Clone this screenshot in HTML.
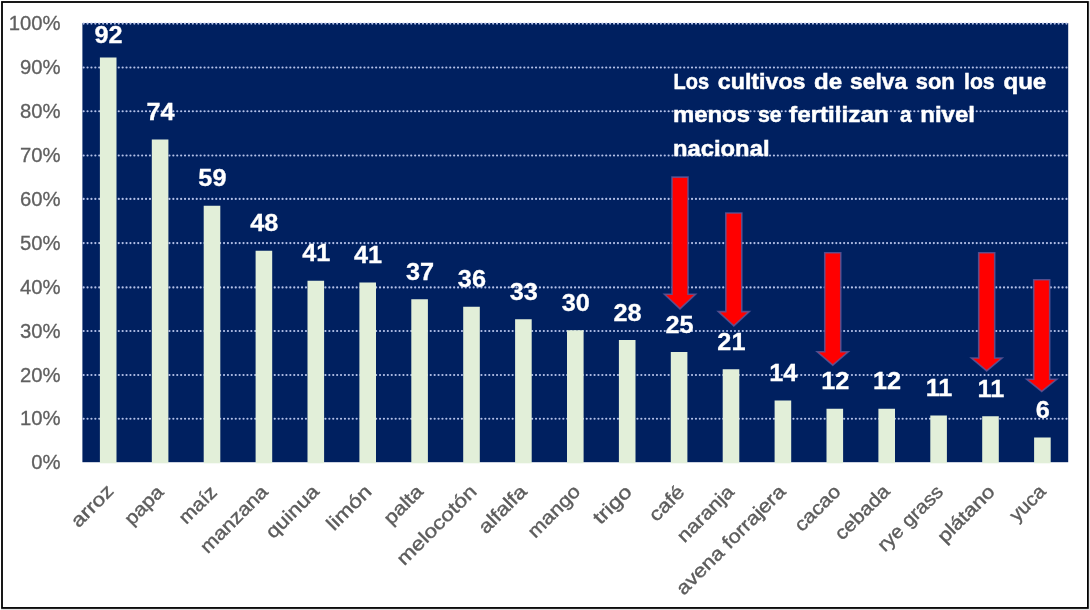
<!DOCTYPE html>
<html lang="es">
<head>
<meta charset="utf-8">
<title>Cultivos fertilizados</title>
<style>
html,body{margin:0;padding:0;background:#fff;}
body{width:1090px;height:610px;overflow:hidden;}
svg{display:block;}
text{font-family:"Liberation Sans",sans-serif;}
.ax{font-size:20.3px;fill:#606060;stroke:#606060;stroke-width:0.3px;}
.dl{font-size:24.2px;font-weight:bold;fill:#fff;stroke:#fff;stroke-width:0.3px;}
.note{font-size:22.7px;font-weight:bold;fill:#fff;stroke:#fff;stroke-width:0.5px;}
.cat{font-size:19px;fill:#5c5c5c;stroke:#5c5c5c;stroke-width:0.4px;}
</style>
</head>
<body>
<svg width="1090" height="610" viewBox="0 0 1090 610">
<rect x="0" y="0" width="1090" height="610" fill="#fff"/>
<rect x="1088.8" y="1" width="1.2" height="609" fill="#e6e6e6"/>
<rect x="1" y="608.8" width="1089" height="1.2" fill="#e2e2e2"/>
<rect x="2" y="2" width="1085.9" height="605.95" fill="#fff" stroke="#000" stroke-width="1.8"/>
<rect x="82.4" y="23" width="985.8" height="439.2" fill="#002060"/>
<g stroke="#b4c1e8" stroke-width="2.1" stroke-dasharray="0.1 3.8" stroke-linecap="round" fill="none">
<line x1="83.6" y1="418.70" x2="1068.2" y2="418.70"/>
<line x1="83.6" y1="375.00" x2="1068.2" y2="375.00"/>
<line x1="83.6" y1="331.00" x2="1068.2" y2="331.00"/>
<line x1="83.6" y1="287.40" x2="1068.2" y2="287.40"/>
<line x1="83.6" y1="243.10" x2="1068.2" y2="243.10"/>
<line x1="83.6" y1="198.90" x2="1068.2" y2="198.90"/>
<line x1="83.6" y1="155.50" x2="1068.2" y2="155.50"/>
<line x1="83.6" y1="111.30" x2="1068.2" y2="111.30"/>
<line x1="83.6" y1="67.50" x2="1068.2" y2="67.50"/>
<line x1="83.6" y1="23.60" x2="1068.2" y2="23.60"/>
</g>
<g fill="#e2efd9">
<rect x="99.90" y="57.5" width="16.6" height="405.80"/>
<rect x="151.80" y="139.5" width="16.6" height="323.80"/>
<rect x="203.70" y="205.75" width="16.6" height="257.55"/>
<rect x="255.60" y="250.75" width="16.6" height="212.55"/>
<rect x="307.50" y="280.75" width="16.6" height="182.55"/>
<rect x="359.40" y="282.5" width="16.6" height="180.80"/>
<rect x="411.30" y="299.25" width="16.6" height="164.05"/>
<rect x="463.20" y="306.75" width="16.6" height="156.55"/>
<rect x="515.10" y="319.25" width="16.6" height="144.05"/>
<rect x="567.00" y="330.25" width="16.6" height="133.05"/>
<rect x="618.90" y="340" width="16.6" height="123.30"/>
<rect x="670.80" y="352" width="16.6" height="111.30"/>
<rect x="722.70" y="369.25" width="16.6" height="94.05"/>
<rect x="774.60" y="400.5" width="16.6" height="62.80"/>
<rect x="826.50" y="408.75" width="16.6" height="54.55"/>
<rect x="878.40" y="408.75" width="16.6" height="54.55"/>
<rect x="930.30" y="415.5" width="16.6" height="47.80"/>
<rect x="982.20" y="416.25" width="16.6" height="47.05"/>
<rect x="1034.10" y="437.5" width="16.6" height="25.80"/>
</g>
<g class="ax" text-anchor="end">
<text x="60.6" y="469.10">0%</text>
<text x="60.6" y="425.30">10%</text>
<text x="60.6" y="381.60">20%</text>
<text x="60.6" y="337.60">30%</text>
<text x="60.6" y="294.00">40%</text>
<text x="60.6" y="249.70">50%</text>
<text x="60.6" y="205.50">60%</text>
<text x="60.6" y="162.10">70%</text>
<text x="60.6" y="117.90">80%</text>
<text x="60.6" y="74.10">90%</text>
<text x="60.6" y="30.20">100%</text>
</g>
<g fill="#ff0000" stroke="#5a5a9e" stroke-opacity="0.8" stroke-width="1.6" stroke-linejoin="miter">
<path d="M672.00 177.10 H688.00 V294.30 H695.50 L680.00 308.90 L664.50 294.30 H672.00 Z"/>
<path d="M725.80 213.00 H741.80 V311.60 H749.30 L733.80 325.80 L718.30 311.60 H725.80 Z"/>
<path d="M824.75 252.80 H840.75 V351.80 H848.25 L832.75 365.15 L817.25 351.80 H824.75 Z"/>
<path d="M978.70 252.80 H994.70 V358.00 H1002.00 L986.70 370.90 L971.40 358.00 H978.70 Z"/>
<path d="M1033.70 279.80 H1049.70 V379.30 H1056.70 L1041.70 391.40 L1026.70 379.30 H1033.70 Z"/>
</g>
<g class="dl" text-anchor="middle">
<text transform="translate(108.60 43) scale(1.045 1)">92</text>
<text transform="translate(160.50 119.7) scale(1.045 1)">74</text>
<text transform="translate(212.40 185.75) scale(1.045 1)">59</text>
<text transform="translate(264.30 231.25) scale(1.045 1)">48</text>
<text transform="translate(316.20 261.25) scale(1.045 1)">41</text>
<text transform="translate(368.10 263) scale(1.045 1)">41</text>
<text transform="translate(420.00 280) scale(1.045 1)">37</text>
<text transform="translate(471.90 287.1) scale(1.045 1)">36</text>
<text transform="translate(523.80 300) scale(1.045 1)">33</text>
<text transform="translate(575.70 310.6) scale(1.045 1)">30</text>
<text transform="translate(627.60 320.75) scale(1.045 1)">28</text>
<text transform="translate(679.50 332.5) scale(1.045 1)">25</text>
<text transform="translate(731.40 349.5) scale(1.045 1)">21</text>
<text transform="translate(783.30 380.75) scale(1.045 1)">14</text>
<text transform="translate(835.20 389.25) scale(1.045 1)">12</text>
<text transform="translate(887.10 389.25) scale(1.045 1)">12</text>
<text transform="translate(939.00 395.9) scale(1.045 1)">11</text>
<text transform="translate(990.90 396.5) scale(1.045 1)">11</text>
<text transform="translate(1042.80 417.9) scale(1.045 1)">6</text>
</g>
<g class="note">
<text y="88.6"><tspan x="673.5" textLength="35.5" lengthAdjust="spacingAndGlyphs">Los</tspan> <tspan x="717.8" textLength="87.7" lengthAdjust="spacingAndGlyphs">cultivos</tspan> <tspan x="814.1" textLength="28.1" lengthAdjust="spacingAndGlyphs">de</tspan> <tspan x="850" textLength="57.2" lengthAdjust="spacingAndGlyphs">selva</tspan> <tspan x="915.8" textLength="38.8" lengthAdjust="spacingAndGlyphs">son</tspan> <tspan x="964" textLength="30.6" lengthAdjust="spacingAndGlyphs">los</tspan> <tspan x="1003.4" textLength="42.9" lengthAdjust="spacingAndGlyphs">que</tspan></text>
<text y="122.4"><tspan x="673" textLength="77.0" lengthAdjust="spacingAndGlyphs">menos</tspan> <tspan x="757.9" textLength="23.7" lengthAdjust="spacingAndGlyphs">se</tspan> <tspan x="789.1" textLength="99.6" lengthAdjust="spacingAndGlyphs">fertilizan</tspan> <tspan x="899.9" textLength="11.5" lengthAdjust="spacingAndGlyphs">a</tspan> <tspan x="920.3" textLength="54.6" lengthAdjust="spacingAndGlyphs">nivel</tspan></text>
<text y="156.2"><tspan x="673" textLength="96.5" lengthAdjust="spacingAndGlyphs">nacional</tspan></text>
</g>
<g class="cat" text-anchor="end">
<text transform="translate(114.80 492.15) rotate(-45)" textLength="51.4" lengthAdjust="spacingAndGlyphs">arroz</text>
<text transform="translate(164.85 493.30) rotate(-45)" textLength="46.6" lengthAdjust="spacingAndGlyphs">papa</text>
<text transform="translate(218.15 493.30) rotate(-45)" textLength="45.0" lengthAdjust="spacingAndGlyphs">maíz</text>
<text transform="translate(269.10 492.90) rotate(-45)" textLength="86.7" lengthAdjust="spacingAndGlyphs">manzana</text>
<text transform="translate(320.30 492.65) rotate(-45)" textLength="66.4" lengthAdjust="spacingAndGlyphs">quinua</text>
<text transform="translate(372.75 492.70) rotate(-45)" textLength="54.8" lengthAdjust="spacingAndGlyphs">limón</text>
<text transform="translate(424.35 492.70) rotate(-45)" textLength="46.9" lengthAdjust="spacingAndGlyphs">palta</text>
<text transform="translate(477.85 492.60) rotate(-45)" textLength="104.1" lengthAdjust="spacingAndGlyphs">melocotón</text>
<text transform="translate(527.95 492.70) rotate(-45)" textLength="59.5" lengthAdjust="spacingAndGlyphs">alfalfa</text>
<text transform="translate(581.55 492.60) rotate(-45)" textLength="65.5" lengthAdjust="spacingAndGlyphs">mango</text>
<text transform="translate(633.05 492.90) rotate(-45)" textLength="45.9" lengthAdjust="spacingAndGlyphs">trigo</text>
<text transform="translate(685.65 493.20) rotate(-45)" textLength="41.3" lengthAdjust="spacingAndGlyphs">café</text>
<text transform="translate(735.05 493.00) rotate(-45)" textLength="71.4" lengthAdjust="spacingAndGlyphs">naranja</text>
<text transform="translate(786.75 492.80) rotate(-45)" textLength="145.8" lengthAdjust="spacingAndGlyphs">avena forrajera</text>
<text transform="translate(841.65 492.70) rotate(-45)" textLength="56.2" lengthAdjust="spacingAndGlyphs">cacao</text>
<text transform="translate(890.85 492.60) rotate(-45)" textLength="68.6" lengthAdjust="spacingAndGlyphs">cebada</text>
<text transform="translate(944.35 493.00) rotate(-45)" textLength="84.1" lengthAdjust="spacingAndGlyphs">rye grass</text>
<text transform="translate(995.95 492.90) rotate(-45)" textLength="72.2" lengthAdjust="spacingAndGlyphs">plátano</text>
<text transform="translate(1046.95 492.70) rotate(-45)" textLength="42.3" lengthAdjust="spacingAndGlyphs">yuca</text>
</g>
</svg>
</body>
</html>
